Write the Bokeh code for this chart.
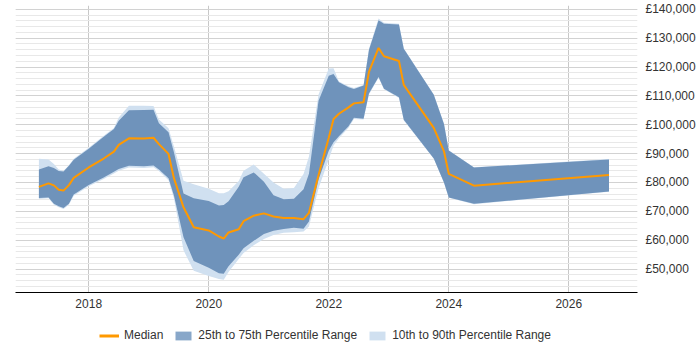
from bokeh.plotting import figure
from bokeh.models import Range1d, FixedTicker, Legend, LegendItem, ColumnDataSource
from bokeh.layouts import column
from bokeh.embed import file_html
from bokeh.resources import INLINE

# ---- data (decimal years) ----
dates = [2017.17, 2017.33, 2017.42, 2017.5, 2017.58, 2017.67, 2017.75, 2018.0, 2018.25, 2018.42,
         2018.5, 2018.67, 2018.92, 2019.08, 2019.17, 2019.33, 2019.42, 2019.58, 2019.75, 2020.0,
         2020.17, 2020.25, 2020.33, 2020.5, 2020.58, 2020.75, 2020.92, 2021.08, 2021.25, 2021.42,
         2021.58, 2021.67, 2021.83, 2022.0, 2022.08, 2022.17, 2022.33, 2022.42, 2022.58, 2022.67,
         2022.83, 2022.92, 2023.17, 2023.25, 2023.75, 2023.92, 2024.0, 2024.42, 2026.67]

median = [78500, 79700, 79000, 77500, 77200, 79100, 81600, 85200, 88300, 90700,
          93000, 95300, 95200, 95500, 93300, 89900, 81500, 71400, 64500, 63400,
          61300, 60600, 62700, 63800, 66600, 68500, 69300, 68200, 67700, 67700,
          67300, 69500, 82600, 95500, 102000, 103800, 106000, 107400, 107800, 118300,
          126600, 123700, 122100, 113800, 98900, 90800, 83000, 78900, 82600]

p25 = [74600, 74800, 72600, 71800, 71200, 72600, 75800, 79100, 81700, 83700,
       84700, 85800, 85600, 85900, 84500, 81500, 75500, 61000, 52800, 50500,
       48600, 48400, 51000, 55000, 57200, 59800, 62200, 63300, 63900, 64300,
       64000, 66500, 81000, 91000, 93900, 96000, 99500, 102400, 102100, 110800,
       116500, 112500, 109500, 101700, 88300, 80000, 74800, 72600, 76900]

p75 = [84500, 85600, 85000, 84000, 83800, 85800, 87900, 91700, 95800, 98500,
       101400, 105000, 105100, 105200, 100500, 97400, 90500, 76200, 74500, 73600,
       72000, 72200, 73500, 78500, 81800, 83500, 80300, 75600, 74200, 74400,
       77700, 83000, 108300, 117000, 117600, 114700, 113000, 112400, 113600, 125900,
       136200, 135000, 134700, 126300, 110400, 100300, 91100, 85200, 88000]

p10 = [74300, 74500, 72300, 71400, 70800, 72300, 75400, 78700, 81200, 83100,
       84100, 85200, 85000, 85300, 84000, 80800, 74500, 56500, 49400, 47600,
       46600, 46300, 49000, 53500, 55600, 58300, 60400, 61800, 62600, 62800,
       63000, 64800, 78000, 88000, 92800, 95300, 99000, 102000, 101800, 110500,
       116300, 112300, 109300, 101500, 88200, 79900, 74700, 72500, 76800]

p90 = [88200, 88000, 86400, 84500, 84100, 86000, 88200, 92000, 96200, 98900,
       102500, 106600, 106600, 106500, 101800, 98800, 92500, 80600, 79400, 77800,
       76300, 76300, 77000, 80500, 84100, 86200, 83000, 80000, 77800, 78100,
       82900, 89000, 110500, 119500, 119600, 115000, 113300, 112700, 113800, 126300,
       136800, 135300, 135000, 126500, 110500, 100400, 91200, 85300, 88100]

x_ticks = [2018, 2020, 2022, 2024, 2026]
y_ticks = [50000, 60000, 70000, 80000, 90000, 100000, 110000, 120000, 130000, 140000]
y_tick_labels = ["£50,000", "£60,000", "£70,000", "£80,000", "£90,000",
                 "£100,000", "£110,000", "£120,000", "£130,000", "£140,000"]
legend_labels = ["Median", "25th to 75th Percentile Range", "10th to 90th Percentile Range"]

FONT = "Liberation Sans"
MEDIAN_COLOR = "#ff9900"
IQR_COLOR = "#6f93bb"
IQR_LEGEND_COLOR = "#88a7c9"
DEC_COLOR = "#d0e0f0"

src = ColumnDataSource(dict(x=dates, med=median, p10=p10, p25=p25, p75=p75, p90=p90))

MAIN_H = 314
p = figure(width=700, height=MAIN_H, output_backend="svg", toolbar_location=None,
           x_range=Range1d(2016.78, 2027.145), y_range=Range1d(41900, 141300),
           y_axis_location="right", min_border_left=15, min_border_right=63,
           min_border_top=5, min_border_bottom=22)
p.outline_line_color = None
p.background_fill_color = "white"
p.border_fill_color = "white"

# grids
p.xgrid.ticker = FixedTicker(ticks=x_ticks)
p.xgrid.grid_line_color = "#c8c8c8"
minor = list(range(42000, 141000, 2000))
p.ygrid.ticker = FixedTicker(ticks=y_ticks, minor_ticks=minor)
p.ygrid.grid_line_color = "#d2d2d2"
p.ygrid.minor_grid_line_color = "#e8e8e8"

# axes
p.xaxis.ticker = FixedTicker(ticks=x_ticks)
p.xaxis.axis_line_color = "#000000"
p.xaxis.major_tick_line_color = None
p.xaxis.minor_tick_line_color = None
p.xaxis.major_tick_out = 0
p.xaxis.minor_tick_out = 0
p.xaxis.major_label_standoff = 6
p.xaxis.major_label_text_font = FONT
p.xaxis.major_label_text_font_size = "12px"
p.xaxis.major_label_text_color = "#333333"

p.yaxis.ticker = FixedTicker(ticks=y_ticks)
p.yaxis.major_label_overrides = {float(t): l for t, l in zip(y_ticks, y_tick_labels)}
p.yaxis.axis_line_color = None
p.yaxis.major_tick_line_color = None
p.yaxis.minor_tick_line_color = None
p.yaxis.major_tick_out = 0
p.yaxis.minor_tick_out = 0
p.yaxis.major_label_standoff = 8
p.yaxis.major_label_text_font = FONT
p.yaxis.major_label_text_font_size = "12px"
p.yaxis.major_label_text_color = "#333333"

# bands and median
p.varea(x="x", y1="p10", y2="p90", source=src, fill_color=DEC_COLOR)
p.varea(x="x", y1="p25", y2="p75", source=src, fill_color=IQR_COLOR)
p.line(x="x", y="med", source=src, line_color=MEDIAN_COLOR, line_width=2)

# legend strip underneath (separate, axis-less figure)
LEG_H = 350 - MAIN_H
lg = figure(width=700, height=LEG_H, output_backend="svg", toolbar_location=None,
            x_axis_type=None, y_axis_type=None, x_range=Range1d(0, 1), y_range=Range1d(0, 1),
            min_border_left=0, min_border_right=0, min_border_top=0, min_border_bottom=0)
lg.outline_line_color = None
lg.xgrid.visible = False
lg.ygrid.visible = False
lg.background_fill_color = "white"
lg.border_fill_color = "white"

# proxy glyphs placed outside the visible range: they only feed the legend
off = ColumnDataSource(dict(x=[-10, -9], y1=[-10, -10], y2=[-9, -9]))
lg_med = lg.line(x="x", y="y1", source=off, line_color=MEDIAN_COLOR, line_width=3)
lg_iqr = lg.varea(x="x", y1="y1", y2="y2", source=off, fill_color=IQR_LEGEND_COLOR)
lg_dec = lg.varea(x="x", y1="y1", y2="y2", source=off, fill_color=DEC_COLOR)

legend = Legend(items=[LegendItem(label=legend_labels[0], renderers=[lg_med]),
                       LegendItem(label=legend_labels[1], renderers=[lg_iqr]),
                       LegendItem(label=legend_labels[2], renderers=[lg_dec])],
                orientation="horizontal", location=(84, 8),
                border_line_color=None, background_fill_alpha=0,
                padding=0, margin=0, spacing=10, label_standoff=5,
                glyph_width=20, glyph_height=11,
                label_text_font=FONT, label_text_font_size="12px",
                label_text_color="#333333")
lg.add_layout(legend, "center")

layout = column(p, lg, spacing=0)
open("out.html", "w").write(file_html(layout, INLINE))
